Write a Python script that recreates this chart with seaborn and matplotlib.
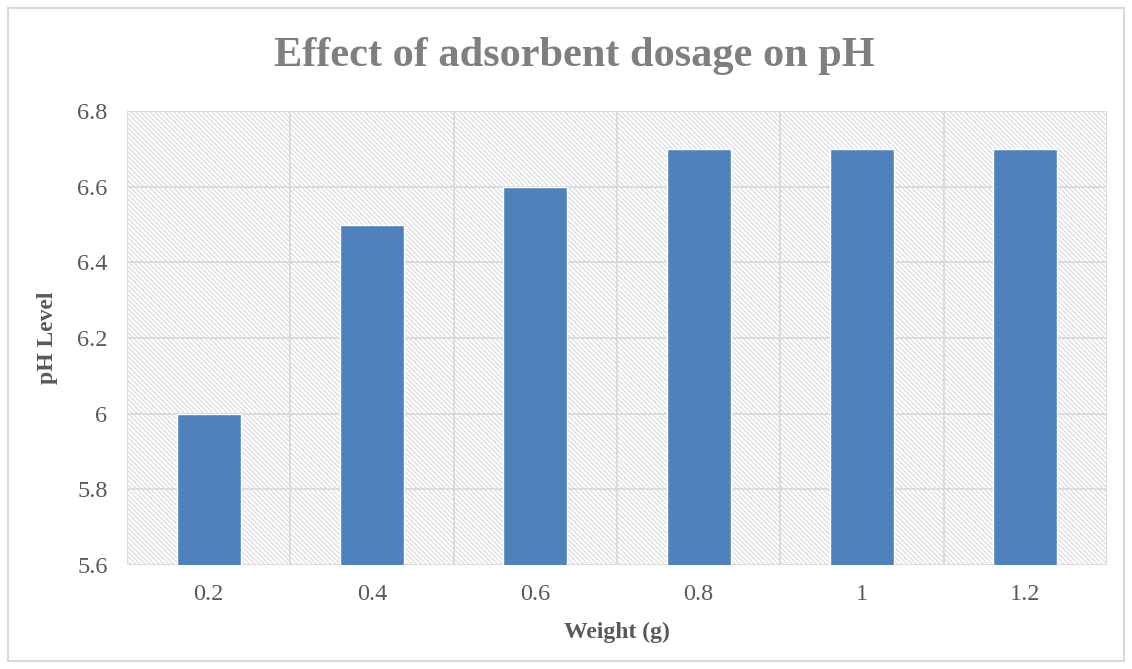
import matplotlib
matplotlib.use("Agg")
import matplotlib.pyplot as plt
import seaborn as sns
import pandas as pd
from matplotlib.patches import Rectangle

weights = ["0.2", "0.4", "0.6", "0.8", "1", "1.2"]
ph_values = [6.0, 6.5, 6.6, 6.7, 6.7, 6.7]
y_ticks = [5.6, 5.8, 6.0, 6.2, 6.4, 6.6, 6.8]
y_tick_labels = ["5.6", "5.8", "6", "6.2", "6.4", "6.6", "6.8"]

df = pd.DataFrame({"Weight": weights, "pH": ph_values})

sns.set_theme(style="white")
plt.rcParams['font.family'] = ['Liberation Serif', 'DejaVu Serif']
plt.rcParams['hatch.color'] = '#d9d9d9'
plt.rcParams['hatch.linewidth'] = 0.8

fig = plt.figure(figsize=(11.32, 6.69), dpi=100)
ax = fig.add_axes([127/1132, 1 - 565/669, (1107-127)/1132, (565-111)/669])

# outer chart border
fig.patches.append(Rectangle((8/1132, 8/669), 1116/1132, 653/669, transform=fig.transFigure,
                             fill=False, edgecolor='#d9d9d9', linewidth=1.5))

# hatched plot area background
BS = chr(92)
ax.add_patch(Rectangle((0, 0), 1, 1, transform=ax.transAxes, facecolor='white',
                       edgecolor='#d9d9d9', hatch=BS * 7, linewidth=0, zorder=0))

sns.barplot(data=df, x="Weight", y="pH", color="#4f81bd", width=0.39, ax=ax,
            saturation=1, zorder=3)

ax.set_ylim(5.6, 6.8)
ax.set_xlim(-0.5, len(weights) - 0.5)

ax.set_yticks(y_ticks)
ax.set_yticklabels(y_tick_labels)
for k in range(len(weights) + 1):
    ax.axvline(k - 0.5, color='#d9d9d9', linewidth=1.3, zorder=1)
for t in y_ticks:
    ax.axhline(t, color='#d9d9d9', linewidth=1.3, zorder=1)

for s in ax.spines.values():
    s.set_visible(False)
ax.tick_params(axis='both', length=0, labelsize=17.5, colors='#595959')
ax.tick_params(axis='x', pad=14)
ax.tick_params(axis='y', pad=14)

ax.set_xlabel("Weight (g)", fontsize=17, fontweight='bold', color='#595959', labelpad=12)
ax.set_ylabel("pH Level", fontsize=17, fontweight='bold', color='#595959', labelpad=14)
fig.text(574/1132, 1 - 56/669, "Effect of adsorbent dosage on pH",
         ha='center', va='center', fontsize=30.5, fontweight='bold', color='#7f7f7f')

fig.savefig("out.png", dpi=100)
